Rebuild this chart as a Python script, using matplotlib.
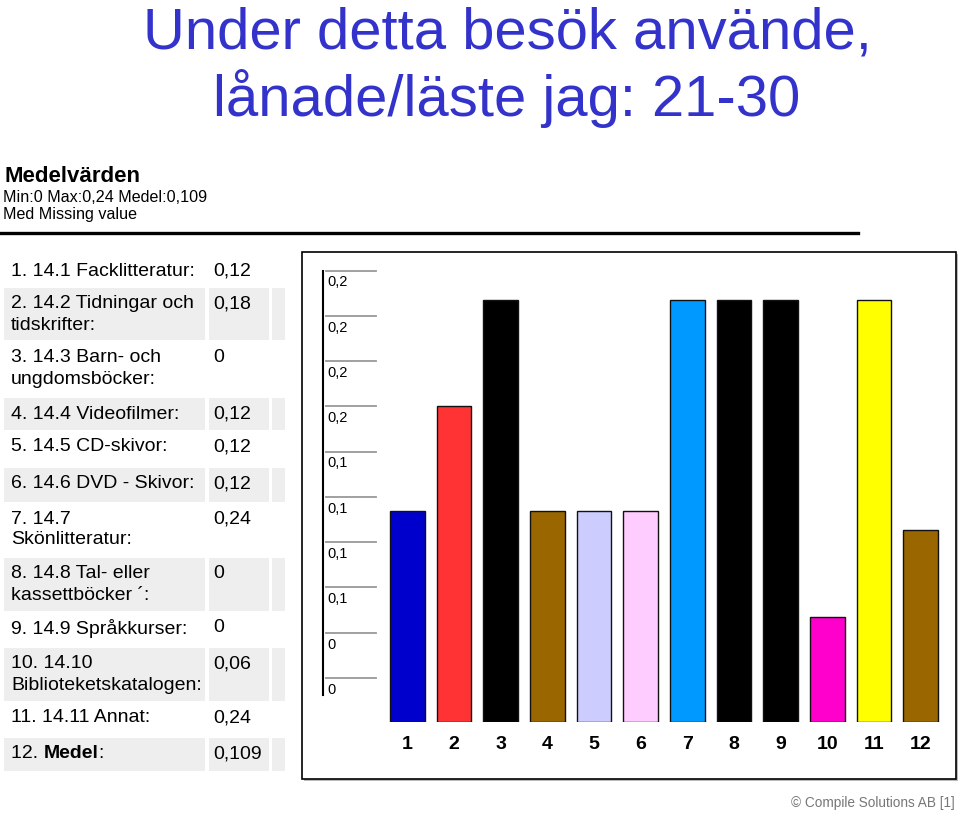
import matplotlib
matplotlib.use("Agg")
import matplotlib.pyplot as plt
from matplotlib.patches import Rectangle
from matplotlib.lines import Line2D

plt.rcParams["font.family"] = ["Liberation Sans", "DejaVu Sans"]

W, H = 960, 814

title_lines = ["Under detta besök använde,", "lånade/läste jag: 21-30"]
summary_head = "Medelvärden"
summary_lines = ["Min:0 Max:0,24 Medel:0,109", "Med Missing value"]

row_labels = [
    ["1. 14.1 Facklitteratur:"],
    ["2. 14.2 Tidningar och", "tidskrifter:"],
    ["3. 14.3 Barn- och", "ungdomsböcker:"],
    ["4. 14.4 Videofilmer:"],
    ["5. 14.5 CD-skivor:"],
    ["6. 14.6 DVD - Skivor:"],
    ["7. 14.7", "Skönlitteratur:"],
    ["8. 14.8 Tal- eller", "kassettböcker ´:"],
    ["9. 14.9 Språkkurser:"],
    ["10. 14.10", "Biblioteketskatalogen:"],
    ["11. 14.11 Annat:"],
    ["12. "],
]
row_values = ["0,12", "0,18", "0", "0,12", "0,12", "0,12", "0,24", "0", "0", "0,06", "0,24", "0,109"]

bar_labels = [str(i) for i in range(1, 13)]
bar_values = [0.12, 0.18, 0.24, 0.12, 0.12, 0.12, 0.24, 0.24, 0.24, 0.06, 0.24, 0.109]
bar_colors = ["#0000cc", "#ff3333", "#000000", "#996600", "#ccccff", "#ffccff",
              "#0099ff", "#000000", "#000000", "#ff00cc", "#ffff00", "#996600"]

scale_labels = ["0,2", "0,2", "0,2", "0,2", "0,1", "0,1", "0,1", "0,1", "0", "0"]

footer = "© Compile Solutions AB [1]"


def fx(x):
    return x / W


def fy(y):
    return 1 - y / H


fig = plt.figure(figsize=(9.6, 8.14), dpi=100)

# title
blue = "#3333cc"
fig.text(fx(507), fy(33), title_lines[0], color=blue, fontsize=41.8, ha="center", va="center")
fig.text(fx(507), fy(99), title_lines[1], color=blue, fontsize=41.8, ha="center", va="center")

# summary block
fig.text(fx(5), fy(176), summary_head, fontsize=16, weight="bold", ha="left", va="center")
fig.text(fx(3), fy(197), summary_lines[0], fontsize=11.6, ha="left", va="center")
fig.text(fx(3), fy(214), summary_lines[1], fontsize=11.6, ha="left", va="center")
fig.add_artist(Line2D([0, fx(858)], [fy(233), fy(233)], color="black", lw=2.4, zorder=-1))

# table
row_spans = [(255, 287), (288, 340), (342, 396), (398, 430), (431, 466), (468, 502),
             (503, 557), (558, 611), (612, 647), (648, 701), (702, 737), (738, 771)]
tfs = 14
for i, (top, bottom) in enumerate(row_spans):
    if i % 2 == 1:
        for x0, x1 in [(4, 205), (209, 269), (272, 285)]:
            fig.add_artist(Rectangle((fx(x0), fy(bottom)), fx(x1 - x0), (bottom - top) / H,
                                     facecolor="#eeeeee", edgecolor="none", zorder=-2))
    y0 = top + 16
    for j, line in enumerate(row_labels[i]):
        fig.text(fx(11), fy(y0 + j * 21), line, fontsize=tfs, ha="left", va="center")
    fig.text(fx(213), fy(y0), row_values[i], fontsize=tfs, ha="left", va="center")

# "12. Medel:" with bold word
renderer = fig.canvas.get_renderer()
t = fig.texts[-2]
bb = t.get_window_extent(renderer)
t2 = fig.text(bb.x1 / W, t.get_position()[1], "Medel", fontsize=tfs, weight="bold",
              ha="left", va="center")
bb2 = t2.get_window_extent(renderer)
fig.text(bb2.x1 / W, t.get_position()[1], ":", fontsize=tfs, ha="left", va="center")

# chart frame
fig.add_artist(Rectangle((fx(304), fy(781)), fx(654), 527 / H, facecolor="#bbbbbb",
                         edgecolor="none", zorder=-3))
fig.add_artist(Rectangle((fx(302), fy(779)), fx(654), 527 / H, facecolor="white",
                         edgecolor="black", lw=1.2, zorder=-2))

# fake scale
ax_s = fig.add_axes([fx(323), fy(678), fx(53), (678 - 270.7) / H])
ax_s.set_xlim(0, 1)
ax_s.set_ylim(0, len(scale_labels) - 1)
ax_s.axis("off")
for k, lab in enumerate(scale_labels):
    yk = len(scale_labels) - 1 - k
    ax_s.plot([0.06, 1.0], [yk, yk], color="#999999", lw=1.3, clip_on=False)
    ax_s.text(0.08, yk - 0.26, lab, fontsize=10.5, ha="left", va="center")
ax_s.plot([0, 0], [-0.37, 9.0], color="black", lw=1.5, clip_on=False)

# bars
bar_h = 0.25 / 0.24 * 422
ax = fig.add_axes([fx(384), fy(722), fx(560), bar_h / H])
x = list(range(1, len(bar_values) + 1))
ax.bar(x, bar_values, width=0.74, color=bar_colors, edgecolor="#111111", linewidth=1.0)
ax.set_xlim(0.5, 12.5)
ax.set_ylim(0, 0.25)
for s in ax.spines.values():
    s.set_visible(False)
ax.set_yticks([])
ax.set_xticks(x)
ax.set_xticklabels(bar_labels, fontsize=14, weight="bold")
ax.tick_params(axis="x", length=0, pad=10)
ax.patch.set_alpha(0)

fig.text(fx(955), fy(803), footer, fontsize=9.8, color="#777777", ha="right", va="center")

fig.savefig("out.png", dpi=100)
